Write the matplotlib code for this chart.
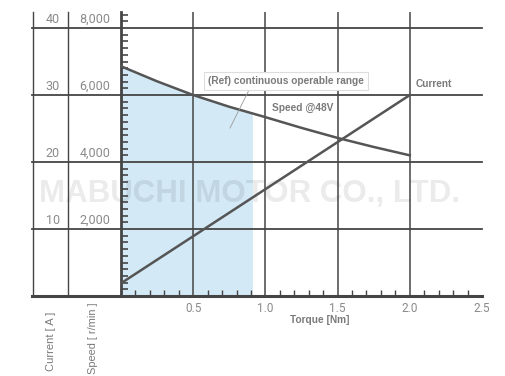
import matplotlib.pyplot as plt
import numpy as np
from matplotlib.ticker import MultipleLocator

plt.rcParams["font.family"] = ["Roboto", "DejaVu Sans"]
LAB_FONT = ["Liberation Sans", "DejaVu Sans"]

# data
torque = [0, 0.25, 0.5, 0.75, 1.0, 1.25, 1.5, 1.75, 2.0]
speed = [6860, 6410, 6000, 5650, 5340, 5020, 4720, 4450, 4200]
current_torque = [0, 2.0]
current = [1.9, 30]
fill_torque = [0, 0.25, 0.5, 0.75, 0.91]
fill_speed = [6860, 6410, 6000, 5650, 5440]

speed_ticks = [2000, 4000, 6000, 8000]
speed_labels = ["2,000", "4,000", "6,000", "8,000"]
current_labels = ["10", "20", "30", "40"]
x_ticks = [0.5, 1.0, 1.5, 2.0, 2.5]

LINE = "#555555"
GRID = "#454545"
TXT = "#8a8a8a"
LBL = "#7a7a7a"

W, H = 506, 376
fig = plt.figure(figsize=(W / 100, H / 100), dpi=100)
ax = fig.add_axes([121 / W, 1 - 296 / H, (482 - 121) / W, (296 - 12) / H])
ax.set_xlim(0, 2.5)
ax.set_ylim(0, 8480)

# shaded range
ax.fill_between(fill_torque, 0, fill_speed, color="#d3e9f6", lw=0, zorder=1)

# watermark
ax.text(0.89, 3045, "MABUCHI MOTOR CO., LTD.", ha="center", va="center",
        fontsize=22.5, fontweight="bold", family=LAB_FONT, color="black",
        alpha=0.08, zorder=1.5, clip_on=False)

# grid
for xv in [0.5, 1.0, 1.5, 2.0]:
    ax.plot([xv, xv], [0, 8480], color=GRID, lw=1.1, zorder=2)
ytr = ax.get_yaxis_transform()
for yv in speed_ticks:
    ax.plot([-0.246, 1], [yv, yv], color=GRID, lw=1.3, transform=ytr,
            clip_on=False, zorder=2)
ax.plot([-0.246, 1], [0, 0], color=GRID, lw=2.2, transform=ytr,
        clip_on=False, zorder=4)
for xa in [-0.2438, -0.1468]:
    ax.plot([xa, xa], [0, 1], color=GRID, lw=1.0, transform=ax.transAxes,
            clip_on=False, zorder=2)

# curves
ax.plot(torque, speed, color=LINE, lw=1.8, zorder=3)
ax2 = ax.twinx()
ax2.set_ylim(0, 8480 / 200)
ax2.plot(current_torque, current, color=LINE, lw=1.8, zorder=3)
ax2.set_yticks([])
for s in ax2.spines.values():
    s.set_visible(False)

# spines / ticks
for s in ["top", "right", "bottom"]:
    ax.spines[s].set_visible(False)
ax.spines["left"].set_color(GRID)
ax.spines["left"].set_linewidth(2)
ax.set_xticks(x_ticks)
ax.set_xticklabels([f"{v:.1f}" for v in x_ticks])
ax.xaxis.set_minor_locator(MultipleLocator(0.1))
ax.set_yticks(speed_ticks)
ax.set_yticklabels([])
ax.yaxis.set_minor_locator(MultipleLocator(200))
ax.tick_params(axis="x", which="major", length=0, pad=4, labelsize=8.5,
               labelcolor=TXT)
ax.tick_params(axis="x", which="minor", direction="in", length=4,
               width=1, color=GRID)
ax.tick_params(axis="y", which="major", length=0)
ax.tick_params(axis="y", which="minor", direction="in", length=5,
               width=1.2, color=GRID)

# left column labels
for yv, cl, sl in zip(speed_ticks, current_labels, speed_labels):
    ax.text(-0.170, yv + 60, cl, transform=ytr, ha="right", va="bottom",
            fontsize=9, color=TXT)
    ax.text(-0.030, yv + 60, sl, transform=ytr, ha="right", va="bottom",
            fontsize=9, color=TXT)

fig.text(320 / W, 1 - 320 / H, "Torque [Nm]", ha="center", va="center",
         fontsize=7.3, fontweight="bold", family=LAB_FONT, color=LBL)
fig.text(51 / W, 1 - 312 / H, "Current [ A ]", rotation=90, ha="center",
         va="top", fontsize=8, family=LAB_FONT, color=LBL)
fig.text(93 / W, 1 - 303 / H, "Speed [ r/min ]", rotation=90, ha="center",
         va="top", fontsize=7.9, family=LAB_FONT, color=LBL)

# annotations
ax.plot([0.886, 0.755], [6149, 5015], color="#999999", lw=0.6, zorder=3)
ax.text(1.143, 6418, "(Ref) continuous operable range", ha="center",
        va="center", fontsize=7.3, fontweight="bold", family=LAB_FONT,
        color=LBL, zorder=5,
        bbox=dict(boxstyle="square,pad=0.42", fc="white", ec="#dddddd",
                  lw=0.8))
ax.text(1.046, 5612, "Speed @48V", ha="left", va="center", fontsize=7.3,
        fontweight="bold", family=LAB_FONT, color=LBL, zorder=5)
ax.text(2.043, 6328, "Current", ha="left", va="center", fontsize=7.3,
        fontweight="bold", family=LAB_FONT, color=LBL, zorder=5)

fig.savefig("out.png", dpi=100)
